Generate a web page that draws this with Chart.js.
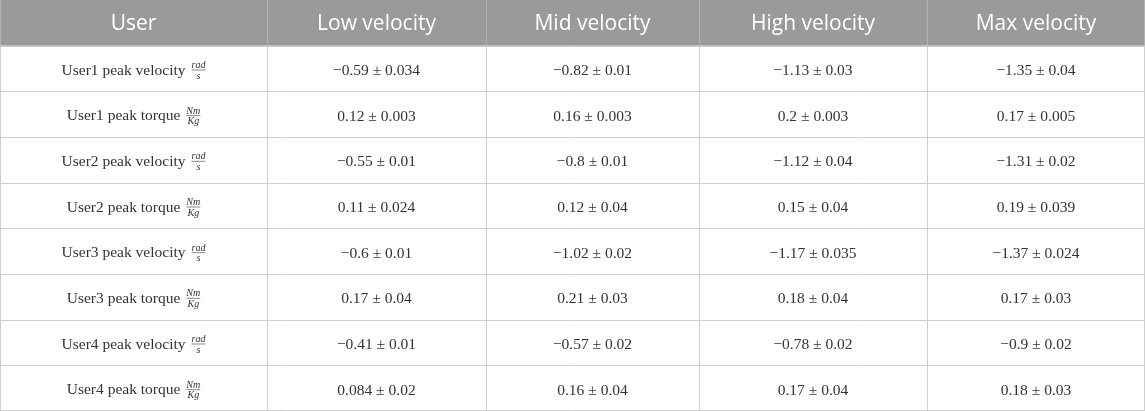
<!DOCTYPE html>
<html lang="en">
<head>
<meta charset="UTF-8">
<title>Peak velocity and torque per user</title>
<script src="https://cdn.jsdelivr.net/npm/chart.js"></script>
<style>
  html, body { margin: 0; padding: 0; background: #fff; }
  #wrap { width: 1145px; height: 411px; position: relative; }
</style>
</head>
<body>
<div id="wrap"><canvas id="tableChart"></canvas></div>
<script>
const columns = ['User', 'Low velocity', 'Mid velocity', 'High velocity', 'Max velocity'];
const rowLabels = [
    'User1 peak velocity', 'User1 peak torque',
    'User2 peak velocity', 'User2 peak torque',
    'User3 peak velocity', 'User3 peak torque',
    'User4 peak velocity', 'User4 peak torque'
];
const unitTop = ['rad', 'Nm', 'rad', 'Nm', 'rad', 'Nm', 'rad', 'Nm'];
const unitBottom = ['s', 'Kg', 's', 'Kg', 's', 'Kg', 's', 'Kg'];

const lowMean  = [-0.59, 0.12, -0.55, 0.11, -0.6, 0.17, -0.41, 0.084];
const lowSd    = [0.034, 0.003, 0.01, 0.024, 0.01, 0.04, 0.01, 0.02];
const midMean  = [-0.82, 0.16, -0.8, 0.12, -1.02, 0.21, -0.57, 0.16];
const midSd    = [0.01, 0.003, 0.01, 0.04, 0.02, 0.03, 0.02, 0.04];
const highMean = [-1.13, 0.2, -1.12, 0.15, -1.17, 0.18, -0.78, 0.17];
const highSd   = [0.03, 0.003, 0.04, 0.04, 0.035, 0.04, 0.02, 0.04];
const maxMean  = [-1.35, 0.17, -1.31, 0.19, -1.37, 0.17, -0.9, 0.18];
const maxSd    = [0.04, 0.005, 0.02, 0.039, 0.024, 0.03, 0.02, 0.03];

// layout: relative column widths (x scale units)
const colWidths = [267, 219, 213, 228, 218];
const colEdges = colWidths.reduce((acc, w) => { acc.push(acc[acc.length - 1] + w); return acc; }, [0]);
const colCenter = i => (colEdges[i] + colEdges[i + 1]) / 2;
const nRows = rowLabels.length + 1; // + header

const fmt = v => (v < 0 ? '\u2212' + Math.abs(v) : String(v));
const valueCols = [[lowMean, lowSd], [midMean, midSd], [highMean, highSd], [maxMean, maxSd]];

const datasets = [{
    label: columns[0],
    data: rowLabels.map((r, i) => ({ x: colCenter(0), y: i + 1.5 })),
    cellText: rowLabels,
    isLabel: true
}].concat(valueCols.map((pair, c) => ({
    label: columns[c + 1],
    data: pair[0].map((m, i) => ({ x: colCenter(c + 1), y: i + 1.5 })),
    cellText: pair[0].map((m, i) => fmt(m) + ' \u00b1 ' + fmt(pair[1][i]))
})));

const serif = '"Liberation Serif", "Times New Roman", serif';
const bodyFont = '15.5px ' + serif;
const unitFont = 'italic 10px ' + serif;

const tablePlugin = {
    id: 'tablePlugin',
    beforeDatasetsDraw(chart) {
        const { ctx, scales: { x, y } } = chart;
        const left = x.getPixelForValue(colEdges[0]);
        const right = x.getPixelForValue(colEdges[colEdges.length - 1]);
        const top = y.getPixelForValue(0);
        const headBottom = y.getPixelForValue(1);
        const bottom = y.getPixelForValue(nRows);
        ctx.save();
        // header band
        ctx.fillStyle = '#9a9a9a';
        ctx.fillRect(left, top, right - left, headBottom - top);
        ctx.lineWidth = 1;
        // vertical lines
        colEdges.forEach(e => {
            const px = Math.min(Math.round(x.getPixelForValue(e)), Math.round(right) - 1) + 0.5;
            ctx.strokeStyle = '#b0b0b0';
            ctx.beginPath(); ctx.moveTo(px, top); ctx.lineTo(px, headBottom); ctx.stroke();
            ctx.strokeStyle = '#cfcfcf';
            ctx.beginPath(); ctx.moveTo(px, headBottom); ctx.lineTo(px, bottom); ctx.stroke();
        });
        // horizontal lines
        ctx.strokeStyle = '#cfcfcf';
        for (let r = 1; r <= nRows; r++) {
            const py = Math.min(Math.round(y.getPixelForValue(r)), Math.round(bottom) - 1) + 0.5;
            ctx.beginPath(); ctx.moveTo(left, py); ctx.lineTo(right, py); ctx.stroke();
        }
        // header text
        ctx.fillStyle = '#ffffff';
        ctx.font = '21px "Open Sans", "Noto Sans", sans-serif';
        ctx.textAlign = 'center';
        ctx.textBaseline = 'middle';
        columns.forEach((c, i) => ctx.fillText(c, x.getPixelForValue(colCenter(i)), y.getPixelForValue(0.5) + 1));
        ctx.restore();
    },
    afterDatasetsDraw(chart) {
        const { ctx } = chart;
        ctx.save();
        ctx.fillStyle = '#333333';
        ctx.textBaseline = 'middle';
        chart.data.datasets.forEach((ds, di) => {
            const meta = chart.getDatasetMeta(di);
            meta.data.forEach((pt, i) => {
                const txt = ds.cellText[i];
                ctx.font = bodyFont;
                ctx.textBaseline = 'middle';
                if (!ds.isLabel) {
                    ctx.textAlign = 'center';
                    ctx.fillText(txt, pt.x, pt.y + 2.5);
                    return;
                }
                // row label with a small stacked unit fraction
                const w = ctx.measureText(txt).width;
                ctx.font = unitFont;
                const fw = Math.max(ctx.measureText(unitTop[i]).width, ctx.measureText(unitBottom[i]).width);
                const gap = 6;
                const sx = pt.x - (w + gap + fw) / 2;
                ctx.font = bodyFont;
                ctx.textAlign = 'left';
                ctx.fillText(txt, sx, pt.y + 2);
                const fx = sx + w + gap + fw / 2;
                ctx.font = unitFont;
                ctx.textAlign = 'center';
                ctx.textBaseline = 'alphabetic';
                ctx.fillText(unitTop[i], fx, pt.y - 0.5);
                ctx.textBaseline = 'top';
                ctx.fillText(unitBottom[i], fx, pt.y + 2.5);
                ctx.strokeStyle = '#555555';
                ctx.lineWidth = 0.7;
                ctx.beginPath();
                ctx.moveTo(fx - fw / 2, pt.y + 1.5);
                ctx.lineTo(fx + fw / 2, pt.y + 1.5);
                ctx.stroke();
            });
        });
        ctx.restore();
    }
};

new Chart(document.getElementById('tableChart'), {
    type: 'scatter',
    data: { datasets: datasets },
    plugins: [tablePlugin],
    options: {
        responsive: true,
        maintainAspectRatio: false,
        animation: false,
        events: [],
        layout: { padding: 0 },
        elements: { point: { radius: 0, hitRadius: 0, hoverRadius: 0 } },
        scales: {
            x: { type: 'linear', min: colEdges[0], max: colEdges[colEdges.length - 1], display: false },
            y: { type: 'linear', min: 0, max: nRows, reverse: true, display: false }
        },
        plugins: {
            legend: { display: false },
            tooltip: { enabled: false }
        }
    }
});
</script>
</body>
</html>
